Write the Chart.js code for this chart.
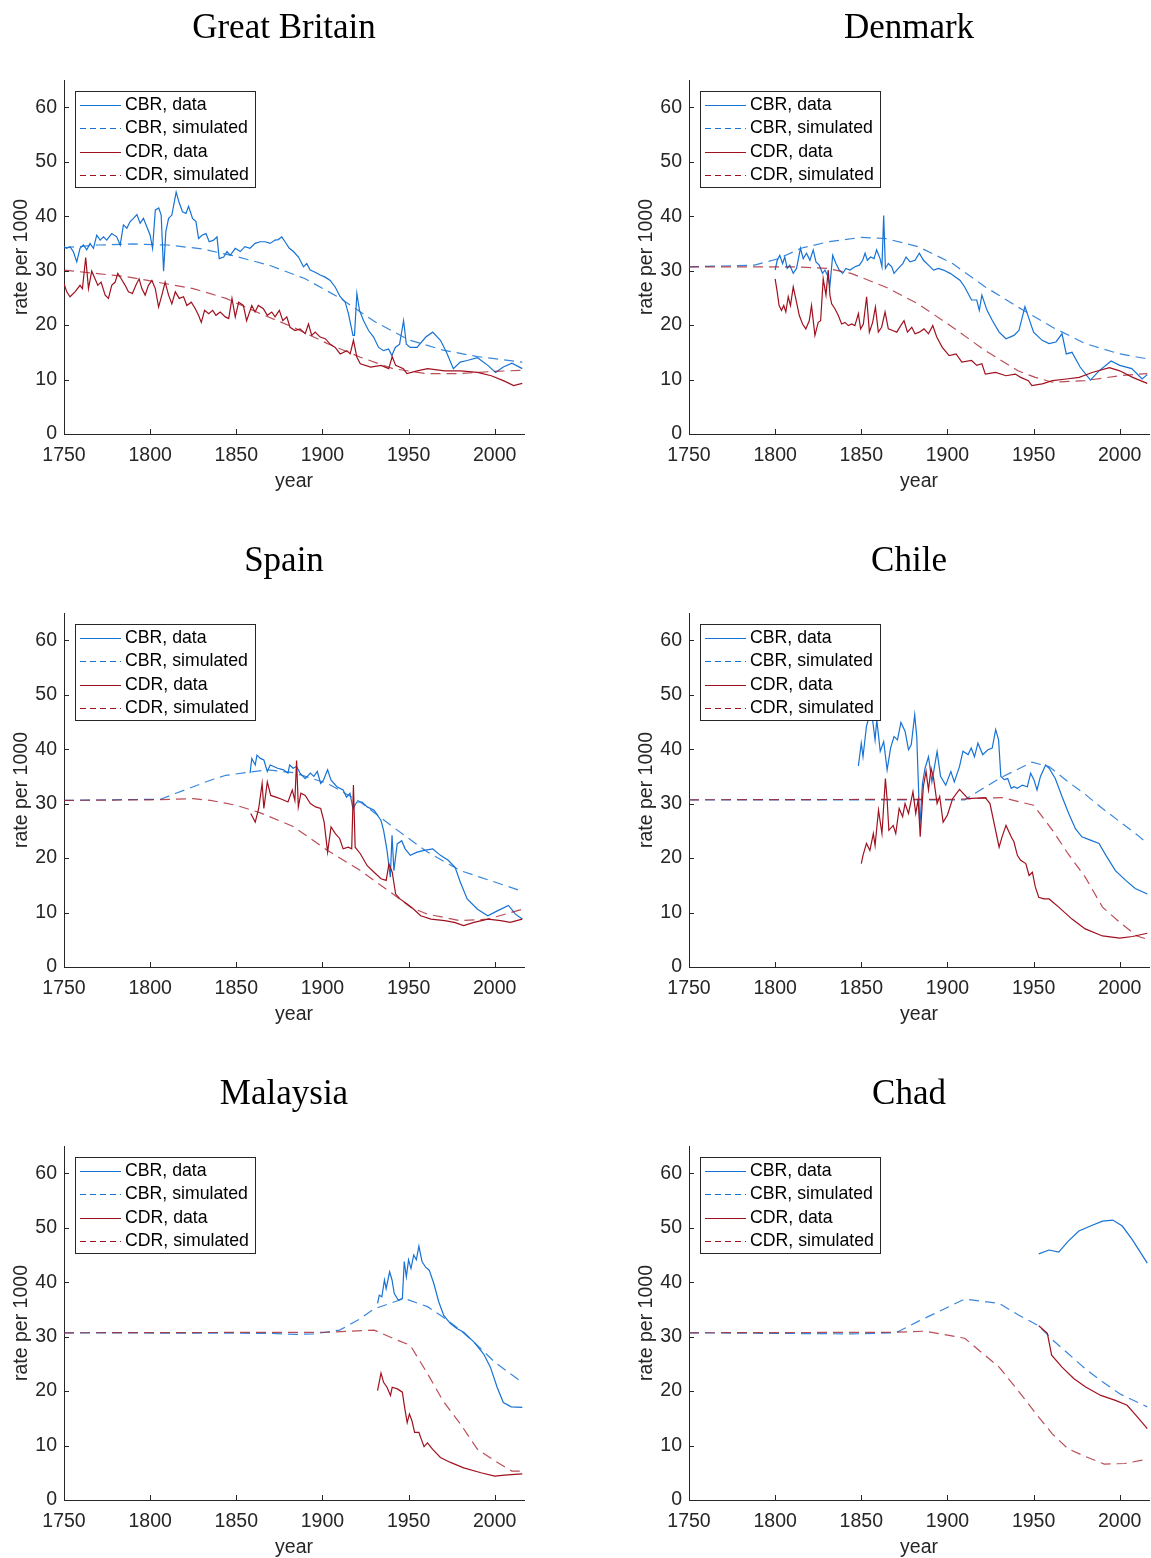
<!DOCTYPE html>
<html>
<head>
<meta charset="utf-8">
<script src="https://cdn.jsdelivr.net/npm/chart.js@4.4.1/dist/chart.umd.min.js"></script>
<style>
  html, body { margin: 0; padding: 0; background: #fff; width: 1151px; height: 1558px; overflow: hidden; }
  #wrap { position: relative; width: 1151px; height: 1558px; overflow: hidden; }
  canvas { position: absolute; }
</style>
</head>
<body>
<div id="wrap"></div>
<script>
// ---------------- data ----------------
const COUNTRIES = ['Great Britain', 'Denmark', 'Spain', 'Chile', 'Malaysia', 'Chad'];
const SERIES_LABELS = ['CBR, data', 'CBR, simulated', 'CDR, data', 'CDR, simulated'];
const X_TICKS = [1750, 1800, 1850, 1900, 1950, 2000];
const Y_TICKS = [0, 10, 20, 30, 40, 50, 60];
const X_TITLE = 'year';
const Y_TITLE = 'rate per 1000';

// Great Britain
const GB_CBR_DATA = [[1750,34.4],[1751.6,34.1],[1753.5,34.4],[1755.4,33.5],[1757.4,31.6],[1759.3,34.1],[1761.3,34.7],[1763.2,33.8],[1765.1,35.0],[1767.1,34.1],[1769,36.5],[1771,35.6],[1772.9,36.2],[1774.8,35.6],[1777.7,36.8],[1780.6,36.2],[1782.6,34.7],[1784.5,38.4],[1786.5,37.8],[1788.4,39.0],[1790.3,39.6],[1792.3,40.3],[1794.2,38.7],[1796.1,39.6],[1798,38.1],[1800,36.5],[1801.4,34.1],[1803,41.1],[1805,41.5],[1806.4,40.2],[1807.8,29.9],[1809.1,37.1],[1810.7,39.6],[1812.6,40.2],[1815.1,44.4],[1816.9,42.4],[1818.8,40.8],[1820.8,40.5],[1822.3,41.8],[1824.6,39.6],[1826.6,39.0],[1828.1,35.9],[1830.1,36.5],[1832.4,36.8],[1834.3,35.3],[1836.8,35.6],[1838.8,36.2],[1840.1,32.2],[1842.7,32.5],[1844.6,33.5],[1846.5,32.8],[1849.4,34.1],[1852.3,33.5],[1855,34.4],[1858,34.1],[1860.9,35.0],[1863.8,35.3],[1866.7,35.3],[1869.6,35.0],[1872.5,35.6],[1874.4,35.7],[1876.4,36.2],[1878.3,35.3],[1880.8,34.1],[1883.2,33.5],[1886.1,32.5],[1889,30.7],[1890.9,31.3],[1892.9,30.1],[1895.2,29.8],[1898.7,29.2],[1901.6,28.8],[1904.5,28.2],[1907.4,27.0],[1910.3,25.2],[1913.2,24.2],[1915.1,22.1],[1917.7,18.1],[1918.6,18.1],[1920,25.8],[1921.5,22.7],[1923.9,20.8],[1926.8,19.0],[1929.7,17.8],[1932.6,15.9],[1935.5,15.3],[1938.4,15.6],[1940.3,14.4],[1942.3,15.9],[1944.8,16.5],[1947.1,20.8],[1948.7,16.5],[1951,15.9],[1954.9,15.9],[1960,17.8],[1964,18.7],[1968.5,17.2],[1972,15.0],[1976,12.0],[1980,13.2],[1984,13.5],[1990,14.0],[1996,12.6],[2000.5,11.3],[2005,12.3],[2010,13.0],[2016,12.0]];
const GB_CBR_SIM = [[1750,34.2],[1770,34.7],[1790,34.9],[1810,34.7],[1830,34.0],[1850,32.6],[1870,30.9],[1890,28.5],[1910,25.0],[1930,20.7],[1950,17.3],[1970,15.4],[1990,14.2],[2016,13.2]];
const GB_CDR_DATA = [[1750,27.6],[1751.6,26.1],[1753.5,25.2],[1756.4,26.1],[1759.3,27.3],[1760.7,26.7],[1762.6,32.4],[1764.2,26.7],[1766.1,29.9],[1768,28.5],[1769.6,27.3],[1771.5,27.9],[1773.9,25.5],[1775.8,24.9],[1777.7,27.3],[1779.7,27.9],[1781.2,29.5],[1783.2,28.5],[1785.5,27.3],[1787.4,26.1],[1789.7,25.8],[1791.7,27.3],[1793.6,28.5],[1795.2,26.7],[1797.1,25.5],[1799,27.3],[1801,28.2],[1803,26.7],[1804.9,23.3],[1806.8,25.5],[1808.7,27.9],[1810.7,25.5],[1812.6,23.9],[1814.6,26.1],[1816.9,24.9],[1819.4,25.2],[1821.3,23.6],[1823.9,24.2],[1826.2,23.0],[1828.1,21.8],[1829.7,20.5],[1831.6,22.7],[1834,22.1],[1836.3,22.7],[1838.2,21.8],[1840.7,22.4],[1843.6,21.5],[1845.6,21.2],[1847.5,24.9],[1849.4,21.5],[1851.4,24.2],[1854.1,23.6],[1856,20.8],[1859,23.6],[1860.9,22.4],[1862.8,23.6],[1865.7,23.0],[1868,21.8],[1870.6,22.4],[1872.5,21.5],[1875,22.7],[1877,20.8],[1879.3,21.5],[1881.2,19.6],[1884.1,19.0],[1887,19.3],[1890,18.4],[1891.9,20.2],[1893.8,18.1],[1895.8,18.7],[1898.7,17.8],[1901.6,17.5],[1904.5,16.5],[1907.4,15.9],[1910.3,14.7],[1914.2,15.3],[1916.1,14.7],[1918,17.2],[1920,14.1],[1922,12.9],[1928,12.3],[1934,12.6],[1938.5,12.0],[1940.5,14.2],[1942.5,12.6],[1947,12.0],[1949,11.1],[1955,11.6],[1961,12.0],[1971,11.6],[1980,11.6],[1990,11.3],[1998,10.7],[2005,9.8],[2011,8.9],[2016,9.3]];
const GB_CDR_SIM = [[1750,30.1],[1786,28.9],[1825,26.7],[1844,24.9],[1864,22.1],[1883,19.6],[1903,16.6],[1922,14.1],[1941,12.0],[1960,11.1],[1980,11.1],[2000,11.5],[2016,11.7]];

// Denmark
const DK_CBR_DATA = [[1800,30.1],[1801.2,31.9],[1802.7,32.8],[1804.3,31.3],[1805.6,32.5],[1807,30.4],[1808.5,31.0],[1810.5,29.5],[1812.4,30.4],[1814.7,34.1],[1816.3,32.2],[1818.2,33.2],[1820.2,31.9],[1822.1,33.8],[1823.7,31.6],[1825.6,31.0],[1827.5,29.5],[1828.9,30.1],[1830.3,29.2],[1831.8,27.3],[1833.4,32.8],[1835.3,31.3],[1837.2,30.1],[1839.2,29.5],[1841.1,30.4],[1843.4,30.1],[1846.3,30.7],[1848.9,31.0],[1850.8,31.9],[1852.2,33.2],[1853.5,31.9],[1855.4,32.5],[1857.4,32.2],[1858.9,33.8],[1860.9,32.2],[1862,30.7],[1863,40.1],[1864,30.4],[1865.7,31.3],[1867.7,30.7],[1869,29.5],[1871.5,30.4],[1874.1,31.3],[1876,32.5],[1878.3,31.6],[1881.2,31.9],[1883.7,33.2],[1886.1,31.9],[1889,31.0],[1891.9,30.1],[1894.8,30.4],[1897.7,30.1],[1901.6,29.5],[1903,29.2],[1907.4,28.2],[1910,27.0],[1914,24.6],[1917,24.6],[1918.5,22.7],[1920,25.5],[1923,22.7],[1926,20.9],[1930,18.7],[1934,17.5],[1938.6,18.1],[1941.5,19.0],[1945,23.4],[1947,21.5],[1950,18.7],[1955,17.2],[1959,16.6],[1963,16.9],[1966.5,18.4],[1969,14.7],[1972.3,15.0],[1977,12.3],[1983,9.9],[1988,11.6],[1995,13.4],[2000,12.6],[2007,12.0],[2013,10.1],[2016,10.9]];
const DK_CBR_SIM = [[1750,30.7],[1788,31.0],[1802,32.2],[1815,34.1],[1831,35.3],[1850,36.1],[1864,35.9],[1883,34.4],[1903,31.3],[1922,27.0],[1941,23.3],[1961,19.6],[1980,16.6],[2000,14.7],[2016,13.8]];
const DK_CDR_DATA = [[1800,28.5],[1801.2,26.1],[1802.3,23.6],[1803.7,22.7],[1805,23.6],[1806.2,22.4],[1807.6,25.2],[1808.9,23.6],[1810.5,27.0],[1812,24.8],[1814,21.8],[1815.9,20.2],[1817.8,19.3],[1819.8,20.8],[1821.1,23.6],[1823.1,18.1],[1825,20.5],[1826.4,20.8],[1827.9,28.5],[1829.5,25.5],[1830.8,30.1],[1831.8,25.5],[1832.8,23.9],[1834.7,23.0],[1836.6,21.8],[1838.6,20.2],[1840.5,20.5],[1842.5,19.9],[1844.4,20.2],[1846.3,19.9],[1848.3,22.1],[1849.6,19.3],[1851.2,20.2],[1853.1,25.2],[1854.7,18.7],[1856.6,20.5],[1858.2,23.3],[1859.9,18.7],[1861.8,19.6],[1863.8,22.4],[1865.7,19.3],[1868.2,19.0],[1870.6,18.7],[1872.9,19.9],[1874.8,20.8],[1876.8,18.7],[1879.3,19.6],[1881.2,18.4],[1883.7,18.7],[1886.4,19.3],[1889,18.4],[1891.5,19.9],[1893.8,17.8],[1897,15.9],[1901,14.4],[1905,14.7],[1908.4,13.2],[1914,13.5],[1917,12.6],[1920,12.9],[1922,11.0],[1928,11.3],[1934,10.7],[1939.4,11.0],[1942.5,10.4],[1947,9.8],[1949,8.9],[1955,9.2],[1961,9.8],[1969,10.1],[1976.5,10.4],[1984,11.3],[1994,12.2],[2000,11.6],[2007.5,10.4],[2016,9.3]];
const DK_CDR_SIM = [[1750,30.7],[1810,30.7],[1830,30.4],[1844,29.5],[1864,27.0],[1883,23.9],[1903,19.6],[1922,15.3],[1941,11.6],[1951,10.4],[1961,9.5],[1980,9.8],[2000,10.7],[2016,11.1]];

// Spain
const ES_CBR_DATA = [[1858,35.6],[1859,38.3],[1861,37.1],[1862,38.9],[1864,38.3],[1866,38.0],[1868,35.9],[1869.7,37.1],[1874,36.5],[1877.4,36.2],[1880,35.6],[1881,37.1],[1883,36.5],[1885,36.8],[1887,35.6],[1890,34.6],[1893,35.6],[1895,35.0],[1897,35.9],[1899,33.7],[1900.6,34.3],[1903,36.2],[1905,34.3],[1908.4,33.1],[1912,32.5],[1914,31.2],[1916,31.9],[1917.7,29.1],[1920,30.3],[1923,30.3],[1926,29.4],[1930,28.8],[1934,26.9],[1935.5,25.1],[1937.5,21.4],[1939.4,16.5],[1940.4,24.2],[1941.5,17.7],[1943.4,22.6],[1946,23.2],[1948,21.7],[1951,20.5],[1955,21.1],[1959,21.4],[1964,21.7],[1968.5,20.5],[1973,19.6],[1977,18.3],[1980,15.6],[1984,12.5],[1990,10.6],[1996,9.4],[2001.5,10.3],[2008,11.3],[2012,9.7],[2016,8.8]];
const ES_CBR_SIM = [[1750,30.6],[1806,30.8],[1815,31.9],[1825,33.1],[1835,34.3],[1844,35.2],[1856,35.7],[1868,36.2],[1883,35.7],[1903,33.7],[1922,30.3],[1941,25.7],[1961,21.1],[1980,17.7],[2000,15.6],[2016,13.9]];
const ES_CDR_DATA = [[1858.4,28.2],[1861,26.6],[1863,29.1],[1865,33.7],[1866,29.1],[1868,34.0],[1870,31.5],[1873,31.2],[1876.4,30.8],[1880,30.3],[1882.5,32.5],[1884,30.6],[1885,37.9],[1886,29.4],[1887.5,31.9],[1890,31.5],[1893,30.0],[1896,29.4],[1899,29.1],[1901,26.6],[1903,21.1],[1905,25.7],[1907.5,24.5],[1910,23.6],[1912,21.7],[1915,22.0],[1917,21.7],[1918,33.4],[1919,22.0],[1922,20.8],[1926,18.6],[1930,17.4],[1934,16.2],[1937,15.9],[1938.6,18.9],[1940.5,17.4],[1942.5,13.4],[1945,12.5],[1949,11.6],[1953,10.6],[1957,9.4],[1963,8.8],[1971,8.5],[1976.5,8.2],[1982,7.6],[1988,8.2],[1996,8.8],[2003.5,8.5],[2009,8.2],[2016,8.8]];
const ES_CDR_SIM = [[1750,30.6],[1800,30.7],[1825,30.9],[1835,30.6],[1850,29.7],[1864,28.3],[1883,25.8],[1903,21.4],[1922,17.7],[1941,13.4],[1951,11.0],[1961,9.7],[1980,8.5],[1996,8.8],[2016,10.6]];

// Chile
const CL_CBR_DATA = [[1848.3,36.9],[1850,41.1],[1851,38.6],[1853,44.2],[1854,45.4],[1856,46.8],[1858,41.7],[1859,45.4],[1861,39.6],[1863,41.4],[1865,36.2],[1867,40.2],[1869,42.3],[1871,41.7],[1873,44.9],[1875.4,43.3],[1877.4,39.9],[1879,40.8],[1881,46.3],[1882.2,42.3],[1884,25.7],[1885.5,33.7],[1887,36.5],[1889,38.6],[1891,34.0],[1894,39.6],[1896,35.0],[1899,33.4],[1902,35.9],[1904,34.0],[1907,36.8],[1909,39.6],[1912,39.0],[1913.8,40.2],[1915.7,38.6],[1917.7,41.1],[1920.5,39.0],[1923.5,39.9],[1926,40.2],[1928,43.6],[1929.7,41.7],[1931,35.0],[1933,34.4],[1935,34.6],[1937,32.8],[1938.6,33.1],[1940.6,32.8],[1943.5,33.4],[1946.4,33.1],[1948.3,35.6],[1950.2,34.4],[1952,32.5],[1954,35.0],[1957,37.1],[1959,36.5],[1962.6,34.6],[1966.5,31.3],[1970.4,28.2],[1974.3,25.4],[1978,23.9],[1983,23.3],[1988,22.7],[1992,20.5],[1997.5,17.7],[2003.5,15.9],[2009,14.4],[2016,13.4]];
const CL_CBR_SIM = [[1750,30.7],[1910,30.7],[1930,34.6],[1949,37.6],[1959,36.8],[1970,34.0],[1980,31.7],[1990,29.1],[2000,26.7],[2010,24.3],[2016,22.7]];
const CL_CDR_DATA = [[1850,19.0],[1851,20.5],[1853,22.7],[1855,21.4],[1857,24.5],[1858,22.3],[1860,28.8],[1862,24.5],[1864,34.6],[1865,30.7],[1866,25.1],[1868.5,26.0],[1870,24.5],[1872,29.1],[1874,27.6],[1875.4,30.0],[1877.4,28.2],[1880,32.2],[1881.6,28.2],[1883,30.7],[1884.2,23.9],[1886,33.1],[1887.6,35.9],[1889,32.5],[1890.5,36.5],[1892,34.6],[1894,30.0],[1895.5,31.3],[1897.5,26.6],[1900,27.9],[1903,30.9],[1907,32.6],[1912,30.9],[1922,31.1],[1924.7,30.0],[1930,22.0],[1931.7,23.9],[1934,26.0],[1937,23.9],[1938.6,23.0],[1940.6,20.5],[1942.5,19.6],[1945.5,19.0],[1947.4,16.8],[1949.3,17.4],[1951,14.7],[1953,12.8],[1956,12.5],[1959,12.5],[1964.6,11.0],[1972.3,8.8],[1980,7.0],[1990,5.7],[2000,5.3],[2007.5,5.6],[2016,6.2]];
const CL_CDR_SIM = [[1750,30.7],[1905,30.8],[1932,31.1],[1950,29.7],[1961,25.1],[1970,20.8],[1980,16.5],[1990,11.0],[2000,8.2],[2010,5.7],[2016,5.1]];

// Malaysia
const MY_CBR_DATA = [[1932,36.1],[1933,37.6],[1934.5,37.3],[1936,40.4],[1937,38.8],[1939,41.9],[1940.4,40.4],[1941.7,37.9],[1944,36.7],[1946.4,37.0],[1947.5,43.8],[1948.7,41.0],[1950,44.1],[1951.4,42.5],[1953,45.0],[1954.5,44.1],[1956,46.6],[1957.8,43.8],[1960,42.7],[1962,42.2],[1964.6,39.8],[1967.5,36.4],[1970.4,33.9],[1974.3,32.4],[1978,31.5],[1982,30.8],[1988,29.0],[1993.6,26.8],[1997.5,24.4],[2001.4,20.7],[2005,17.9],[2009.6,17.1],[2016,17.0]];
const MY_CBR_SIM = [[1750,30.7],[1870,30.6],[1885,30.4],[1895,30.5],[1910,31.2],[1922,33.3],[1930,35.1],[1947.5,37.0],[1961,35.5],[1970,33.6],[1980,31.2],[1990,28.4],[2000,25.3],[2016,21.6]];
const MY_CDR_DATA = [[1932,20.1],[1934,23.3],[1935.5,21.6],[1937.5,20.7],[1939.5,19.2],[1940.5,20.7],[1943.5,20.4],[1946.4,19.8],[1947.7,17.0],[1949.2,14.2],[1950.5,15.8],[1952,14.5],[1953.5,12.4],[1956,12.4],[1957,11.5],[1959,9.8],[1961,10.5],[1964,9.3],[1968.5,7.8],[1974.3,6.9],[1982,5.9],[1992,5.0],[2000,4.4],[2007.5,4.6],[2016,4.8]];
const MY_CDR_SIM = [[1750,30.7],[1903,30.8],[1930,31.2],[1941.5,29.6],[1951,28.4],[1961,23.2],[1970,18.2],[1980,14.0],[1990,9.3],[2000,7.2],[2010,5.3],[2016,5.3]];

// Chad
const TD_CBR_DATA = [[1953,45.2],[1959,45.9],[1964.6,45.5],[1970,47.5],[1976.3,49.4],[1983,50.3],[1990,51.2],[1996,51.4],[2001.5,50.3],[2007.3,47.8],[2016,43.5]];
const TD_CBR_SIM = [[1750,30.7],[1845,30.5],[1870,30.7],[1883,32.8],[1895,34.6],[1910,36.9],[1930,36.1],[1941,34.0],[1953,32.0],[1961,29.4],[1970,26.9],[1980,24.1],[1990,21.7],[2000,19.5],[2016,17.1]];
const TD_CDR_DATA = [[1953,32.0],[1958,30.6],[1960.5,26.6],[1966.5,24.4],[1973.3,22.3],[1980,20.8],[1989,19.2],[1997.5,18.3],[2004.3,17.4],[2009.6,15.5],[2016,13.1]];
const TD_CDR_SIM = [[1750,30.7],[1870,30.8],[1887,31.0],[1910,29.7],[1930,24.4],[1941,20.1],[1953,15.2],[1961,12.1],[1970,9.4],[1980,8.0],[1991,6.6],[2003,6.7],[2016,7.5]];

const PANEL_SERIES = [
  [GB_CBR_DATA, GB_CBR_SIM, GB_CDR_DATA, GB_CDR_SIM],
  [DK_CBR_DATA, DK_CBR_SIM, DK_CDR_DATA, DK_CDR_SIM],
  [ES_CBR_DATA, ES_CBR_SIM, ES_CDR_DATA, ES_CDR_SIM],
  [CL_CBR_DATA, CL_CBR_SIM, CL_CDR_DATA, CL_CDR_SIM],
  [MY_CBR_DATA, MY_CBR_SIM, MY_CDR_DATA, MY_CDR_SIM],
  [TD_CBR_DATA, TD_CBR_SIM, TD_CDR_DATA, TD_CDR_SIM]
];

// ---------------- styles ----------------
const AXIS_COLOR = '#262626';
const BLUE = 'rgb(22,114,212)';
const BLUE_SIM = 'rgba(22,114,212,0.85)';
const RED = 'rgb(160,17,31)';
const RED_SIM = 'rgba(163,17,31,0.75)';
const SANS = '"Liberation Sans", Arial, Helvetica, sans-serif';
const SERIF = '"Liberation Serif", "Times New Roman", serif';
const SERIES_STYLE = [
  {color: BLUE, legendColor: BLUE, dash: [], order: 3},
  {color: BLUE_SIM, legendColor: BLUE, dash: [10, 6], order: 2},
  {color: RED, legendColor: RED, dash: [], order: 1},
  {color: RED_SIM, legendColor: RED, dash: [10, 6], order: 0}
];

const inwardTicks = {
  id: 'inwardTicks',
  afterDraw(chart) {
    const {ctx, chartArea, scales} = chart;
    const xs = scales.x, ys = scales.y;
    ctx.save();
    ctx.strokeStyle = AXIS_COLOR;
    ctx.lineWidth = 1;
    ctx.beginPath();
    xs.ticks.forEach(t => {
      const px = Math.round(xs.getPixelForValue(t.value)) + 0.5;
      ctx.moveTo(px, chartArea.bottom);
      ctx.lineTo(px, chartArea.bottom - 5);
    });
    ys.ticks.forEach(t => {
      const py = Math.round(ys.getPixelForValue(t.value)) + 0.5;
      ctx.moveTo(chartArea.left, py);
      ctx.lineTo(chartArea.left + 5, py);
    });
    ctx.stroke();
    ctx.restore();
  }
};

const legendBox = {
  id: 'legendBox',
  afterDatasetsDraw(chart) {
    const {ctx, chartArea} = chart;
    const font = '17.7px ' + SANS;
    ctx.save();
    ctx.font = font;
    const dss = chart.data.datasets;
    let maxW = 0;
    dss.forEach(ds => { maxW = Math.max(maxW, ctx.measureText(ds.label).width); });
    const x0 = Math.round(chartArea.left) + 11;
    const y0 = Math.round(chartArea.top) + 11;
    const rowH = 23.4;
    const w = Math.round(50 + maxW + 6);
    const h = Math.round(14 + rowH * (dss.length - 1) + 12);
    ctx.fillStyle = '#fff';
    ctx.fillRect(x0, y0, w, h);
    ctx.strokeStyle = AXIS_COLOR;
    ctx.lineWidth = 1;
    ctx.strokeRect(x0 + 0.5, y0 + 0.5, w, h);
    ctx.textBaseline = 'middle';
    ctx.textAlign = 'left';
    dss.forEach((ds, i) => {
      const yy = Math.round(y0 + 14 + i * rowH) + 0.5;
      ctx.strokeStyle = ds.legendColor;
      ctx.lineWidth = 1;
      ctx.setLineDash(ds.borderDash && ds.borderDash.length ? [6, 4] : []);
      ctx.beginPath();
      ctx.moveTo(x0 + 5, yy);
      ctx.lineTo(x0 + 46, yy);
      ctx.stroke();
      ctx.setLineDash([]);
      ctx.fillStyle = '#000';
      ctx.fillText(ds.label, x0 + 50, yy);
    });
    ctx.restore();
  }
};

const wrap = document.getElementById('wrap');
const PANEL_W = 575, PANEL_H = 533, COL_X = [0, 625];

COUNTRIES.forEach((country, idx) => {
  const cv = document.createElement('canvas');
  cv.width = PANEL_W; cv.height = PANEL_H;
  cv.style.left = COL_X[idx % 2] + 'px';
  cv.style.top = (Math.floor(idx / 2) * PANEL_H) + 'px';
  cv.style.width = PANEL_W + 'px'; cv.style.height = PANEL_H + 'px';
  wrap.appendChild(cv);

  const datasets = PANEL_SERIES[idx].map((pts, s) => ({
    label: SERIES_LABELS[s],
    data: pts.map(p => ({x: p[0], y: p[1]})),
    borderColor: SERIES_STYLE[s].color,
    backgroundColor: SERIES_STYLE[s].color,
    legendColor: SERIES_STYLE[s].legendColor,
    borderDash: SERIES_STYLE[s].dash,
    borderWidth: 1.2,
    pointRadius: 0,
    pointHoverRadius: 0,
    tension: 0,
    fill: false,
    order: SERIES_STYLE[s].order
  }));

  new Chart(cv, {
    type: 'line',
    data: {datasets},
    plugins: [inwardTicks, legendBox],
    options: {
      responsive: false,
      animation: false,
      devicePixelRatio: 1,
      layout: {padding: {left: 0, right: 7, top: 0, bottom: 0}},
      plugins: {
        legend: {display: false},
        tooltip: {enabled: false},
        title: {
          display: true,
          text: country,
          color: '#000',
          font: {family: SERIF, size: 35, weight: 'normal', lineHeight: 1.2},
          padding: {top: 8, bottom: 30}
        }
      },
      scales: {
        x: {
          type: 'linear',
          min: 1750,
          max: 2017,
          afterBuildTicks: sc => { sc.ticks = X_TICKS.map(v => ({value: v})); },
          afterFit: sc => { sc.height = 99; },
          grid: {display: false, drawTicks: false},
          border: {display: true, color: AXIS_COLOR, width: 1},
          ticks: {
            color: AXIS_COLOR, padding: 9.5, maxRotation: 0, autoSkip: false,
            font: {family: SANS, size: 19.5},
            callback: v => String(v)
          },
          title: {
            display: true, text: X_TITLE, color: AXIS_COLOR,
            font: {family: SANS, size: 19.5}, padding: {top: 0, bottom: 39.5}
          }
        },
        y: {
          type: 'linear',
          min: 0,
          max: 65,
          afterBuildTicks: sc => { sc.ticks = Y_TICKS.map(v => ({value: v})); },
          afterFit: sc => { sc.width = 64; },
          grid: {display: false, drawTicks: false},
          border: {display: true, color: AXIS_COLOR, width: 1},
          ticks: {
            color: AXIS_COLOR, padding: 7, autoSkip: false,
            font: {family: SANS, size: 19.5},
            callback: v => String(v)
          },
          title: {
            display: true, text: Y_TITLE, color: AXIS_COLOR,
            font: {family: SANS, size: 19.5}, padding: {top: 10, bottom: 0}
          }
        },
        // empty right-hand spacer so the title centres like the original figure
        yRight: {
          type: 'linear',
          position: 'right',
          display: true,
          afterFit: sc => { sc.width = 44; },
          grid: {display: false, drawTicks: false},
          border: {display: false},
          ticks: {display: false}
        }
      }
    }
  });
});
</script>
</body>
</html>
